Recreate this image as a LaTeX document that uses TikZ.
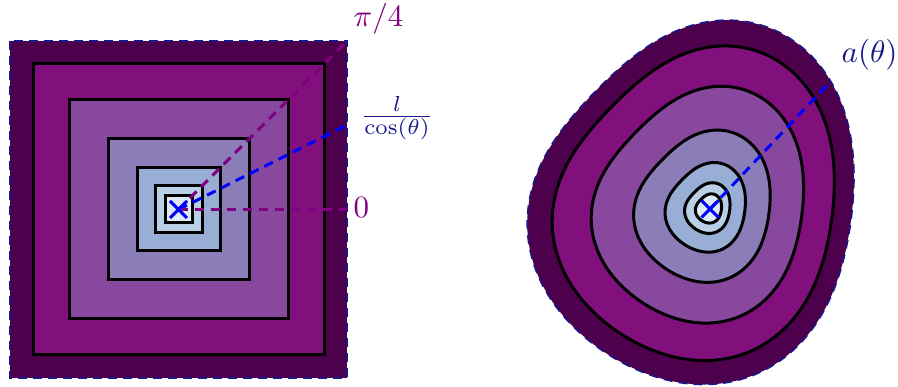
\documentclass[tikz,border=0pt]{standalone}
\usepackage{amsmath}
\usetikzlibrary{shapes.misc}
\definecolor{cA}{HTML}{4D004B}
\definecolor{cB}{HTML}{810F7C}
\definecolor{cC}{HTML}{88489E}
\definecolor{cD}{HTML}{8B7DB8}
\definecolor{cE}{HTML}{98AED5}
\definecolor{cF}{HTML}{B8CFE6}
\definecolor{cG}{HTML}{DDE9F4}
\definecolor{navyt}{rgb}{0.1,0.1,0.55}
\definecolor{purp}{HTML}{800080}
\tikzset{
 declare function={rr(\t)=170-12.47*cos(\t)+3.83*sin(\t)-9.68*cos(2*\t)+8.67*sin(2*\t)-7.35*cos(3*\t)-2.27*sin(3*\t)+1.82*cos(4*\t);},
 lvl/.style={fill=#1, draw=black, line width=3pt},
 rim/.style={draw=navyt, line width=1.6pt, dash pattern=on 9pt off 6pt},
 ray/.style={line width=3pt, dash pattern=on 9.5pt off 6.5pt},
 lbl/.style={inner sep=0pt, font=\normalsize, scale=3.1},
 xmark/.style={draw=blue, cross out, line width=3pt, minimum size=14pt, inner sep=0pt},
 blob/.pic={\path[pic actions] plot[domain=0:357.5, samples=144, smooth cycle] ({rr(\x)*cos(\x)}, {-rr(\x)*sin(\x)});}
}
\begin{document}
\begin{tikzpicture}[x=1pt,y=-1pt]
\useasboundingbox (0,0) rectangle (898,387);
% ---- left: nested squares
\coordinate (cL) at (178.5,209.5);
\filldraw[fill=cA, rim] (10,41) rectangle (347,378);
\filldraw[lvl=cB] (33,64) rectangle (324,355);
\filldraw[lvl=cC] (69,100) rectangle (288,319);
\filldraw[lvl=cD] (108,139) rectangle (249,280);
\filldraw[lvl=cE] (137,168) rectangle (220,251);
\filldraw[lvl=cF] (155,186) rectangle (202,233);
\filldraw[lvl=cG] (165,196) rectangle (192,223);
\coordinate (qc) at (347,41);
\coordinate (qt) at (347,125);
\coordinate (q0) at (347,209.5);
\draw[ray, purp] (cL) -- (qc);
\draw[ray, blue] (cL) -- (qt);
\draw[ray, purp] (cL) -- (q0);
\node[xmark] (xL) at (cL) {};
\node[lbl, text=purp, anchor=base west] (lpi) at (353,27) {$\pi/4$};
\node[lbl, text=navyt, anchor=base] (lcos) at (397,124) {$\frac{l}{\cos(\theta)}$};
\node[lbl, text=purp, anchor=base west] (lzero) at (353,218) {$0$};
% ---- right: level sets of a blob
\coordinate (cR) at (710,209);
\pic[fill=cA, rim] at (cR) {blob};
\pic[lvl=cB, scale=0.8635] at (cR) {blob};
\pic[lvl=cC, scale=0.65] at (cR) {blob};
\pic[lvl=cD, scale=0.418] at (cR) {blob};
\pic[lvl=cE, scale=0.246] at (cR) {blob};
\pic[lvl=cF, scale=0.139] at (cR) {blob};
\pic[lvl=cG, scale=0.08] at (cR) {blob};
\coordinate (aT) at (830,82);
\draw[ray, blue] (cR) -- (aT);
\node[xmark] (xR) at (cR) {};
\node[lbl, text=navyt, anchor=base west] (la) at (841,63) {$a(\theta)$};
\end{tikzpicture}
\end{document}
